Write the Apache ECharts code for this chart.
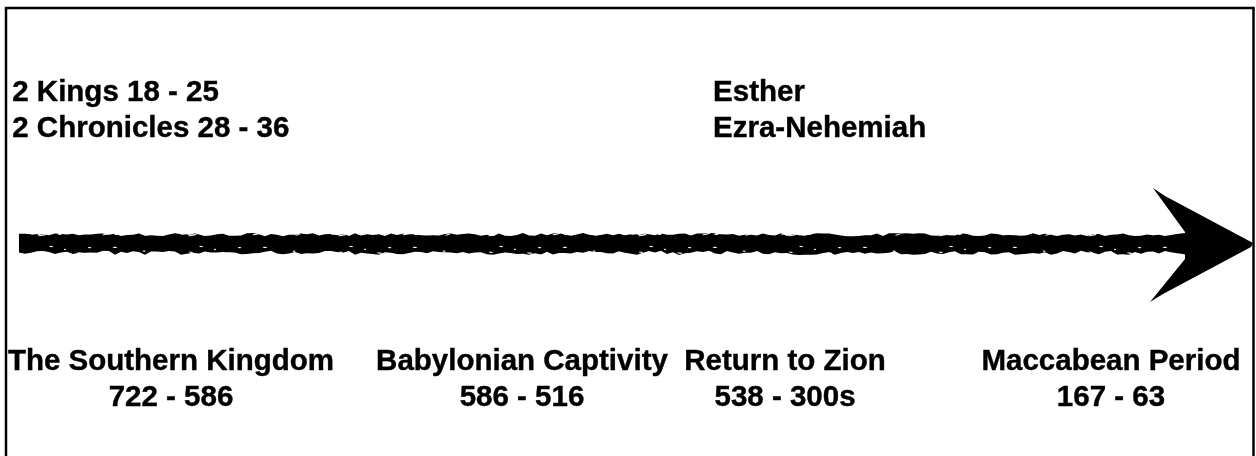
<!DOCTYPE html>
<html>
<head>
<meta charset="utf-8">
<script src="https://cdn.jsdelivr.net/npm/echarts@6/dist/echarts.min.js"></script>
<style>
html,body{margin:0;padding:0;background:#fff;overflow:hidden;}
#chart{width:1256px;height:456px;}
</style>
</head>
<body>
<div id="chart"></div>
<script>
// ---- data ----
const bookLabels = ['2 Kings 18 - 25\n2 Chronicles 28 - 36', 'Esther\nEzra-Nehemiah'];
const bookX = [0.5, 56.7];
const bookY = [22.93, 22.93];

const periods = ['The Southern Kingdom', 'Babylonian Captivity', 'Return to Zion', 'Maccabean Period'];
const periodYears = ['722 - 586', '586 - 516', '538 - 300s', '167 - 63'];
const periodX = [13.23, 41.38, 62.47, 88.61];
const periodY = [83.0, 83.0, 83.0, 83.0];

const arrowStart = [1.04];
const arrowEnd = [100];
const arrowY = [52.68];

// ---- styling helpers (brush texture, deterministic) ----
function hash(i) { const s = Math.sin(i * 12.9898 + 78.233) * 43758.5453; return s - Math.floor(s); }
function makeTexture() {
  const c = document.createElement('canvas');
  c.width = 150; c.height = 40;
  const g = c.getContext('2d');
  g.fillStyle = '#000'; g.fillRect(0, 0, c.width, c.height);
  g.fillStyle = '#fff';
  for (let k = 0; k < 26; k++) {
    const x = hash(k * 3 + 1) * 150;
    const y = 22 + hash(k * 3 + 2) * 14;
    const rx = 1 + hash(k * 3 + 3) * 3.5;
    const ry = 0.5 + hash(k * 7 + 5) * 1.0;
    g.beginPath(); g.ellipse(x, y, rx, ry, -0.2, 0, Math.PI * 2); g.fill();
  }
  for (let k = 0; k < 8; k++) {
    const x = hash(k * 11 + 4) * 150;
    const y = 6 + hash(k * 13 + 9) * 12;
    g.beginPath(); g.ellipse(x, y, 1 + hash(k * 5 + 2) * 2, 0.6, 0.1, 0, Math.PI * 2); g.fill();
  }
  return c;
}
const texture = makeTexture();

// ---- chart ----
const FONT = "'Liberation Sans', 'Helvetica Neue', Helvetica, Arial, sans-serif";
const chart = echarts.init(document.getElementById('chart'), null, {renderer: 'canvas'});

const bookData = bookLabels.map((t, i) => ({value: [bookX[i], bookY[i]], name: t}));
const periodData = periods.map((t, i) => ({value: [periodX[i], periodY[i]], name: t + '\n' + periodYears[i]}));
const arrowData = arrowStart.map((s, i) => [s, arrowEnd[i], arrowY[i]]);

const textStyle = {
  color: '#000', opacity: 1, fontFamily: FONT, fontWeight: 'bold', fontSize: 29.5, lineHeight: 36,
  textBorderColor: '#000', textBorderWidth: 0.4
};

chart.setOption({
  backgroundColor: '#fff',
  animation: false,
  grid: {left: 6, right: 3, top: 8, bottom: 0, show: false},
  xAxis: {type: 'value', min: 0, max: 100, show: false, splitLine: {show: false}},
  yAxis: {type: 'value', min: 0, max: 100, inverse: true, show: false, splitLine: {show: false}},
  graphic: [{
    type: 'polyline', silent: true,
    shape: {points: [[6, 470], [6, 8], [1253.5, 8], [1253.5, 470]]},
    style: {stroke: '#000', lineWidth: 2.5, fill: null}
  }],
  series: [
    {
      type: 'custom',
      clip: false,
      data: arrowData,
      renderItem: function (params, api) {
        const p0 = api.coord([api.value(0), api.value(2)]);
        const p1 = api.coord([api.value(1), api.value(2)]);
        const y = p0[1];
        const tipX = p1[0];
        const half = 11;
        const endX = tipX - 66;
        const top = [], bot = [];
        let i = 0;
        for (let x = p0[0]; x <= endX; x += 6, i++) {
          top.push([x, y - half + hash(i * 2 + 0.5) * 3.2]);
          bot.push([x, y + half - hash(i * 2 + 1.5) * 4.2]);
        }
        top.push([endX, y - half]);
        bot.push([endX, y + half]);
        const shaft = top.concat(bot.reverse());
        return {
          type: 'group',
          children: [
            {
              type: 'polygon',
              shape: {points: shaft},
              style: {fill: {image: texture, repeat: 'repeat'}}
            },
            {
              type: 'polygon',
              shape: {points: [
                [tipX - 100, y - 56], [tipX - 88, y - 48], [tipX, y - 1], [tipX - 2, y + 3],
                [tipX - 90, y + 50], [tipX - 103, y + 58],
                [tipX - 68, y + 15], [tipX - 68, y - 12]
              ]},
              style: {fill: '#000'}
            }
          ]
        };
      }
    },
    {
      type: 'scatter',
      symbolSize: 0,
      data: bookData,
      label: Object.assign({
        show: true, position: [0, 0], align: 'left', verticalAlign: 'middle',
        formatter: p => p.name
      }, textStyle)
    },
    {
      type: 'scatter',
      symbolSize: 0,
      data: periodData,
      label: Object.assign({
        show: true, position: [0, 0], align: 'center', verticalAlign: 'middle',
        formatter: p => p.name
      }, textStyle)
    }
  ]
});
</script>
</body>
</html>
